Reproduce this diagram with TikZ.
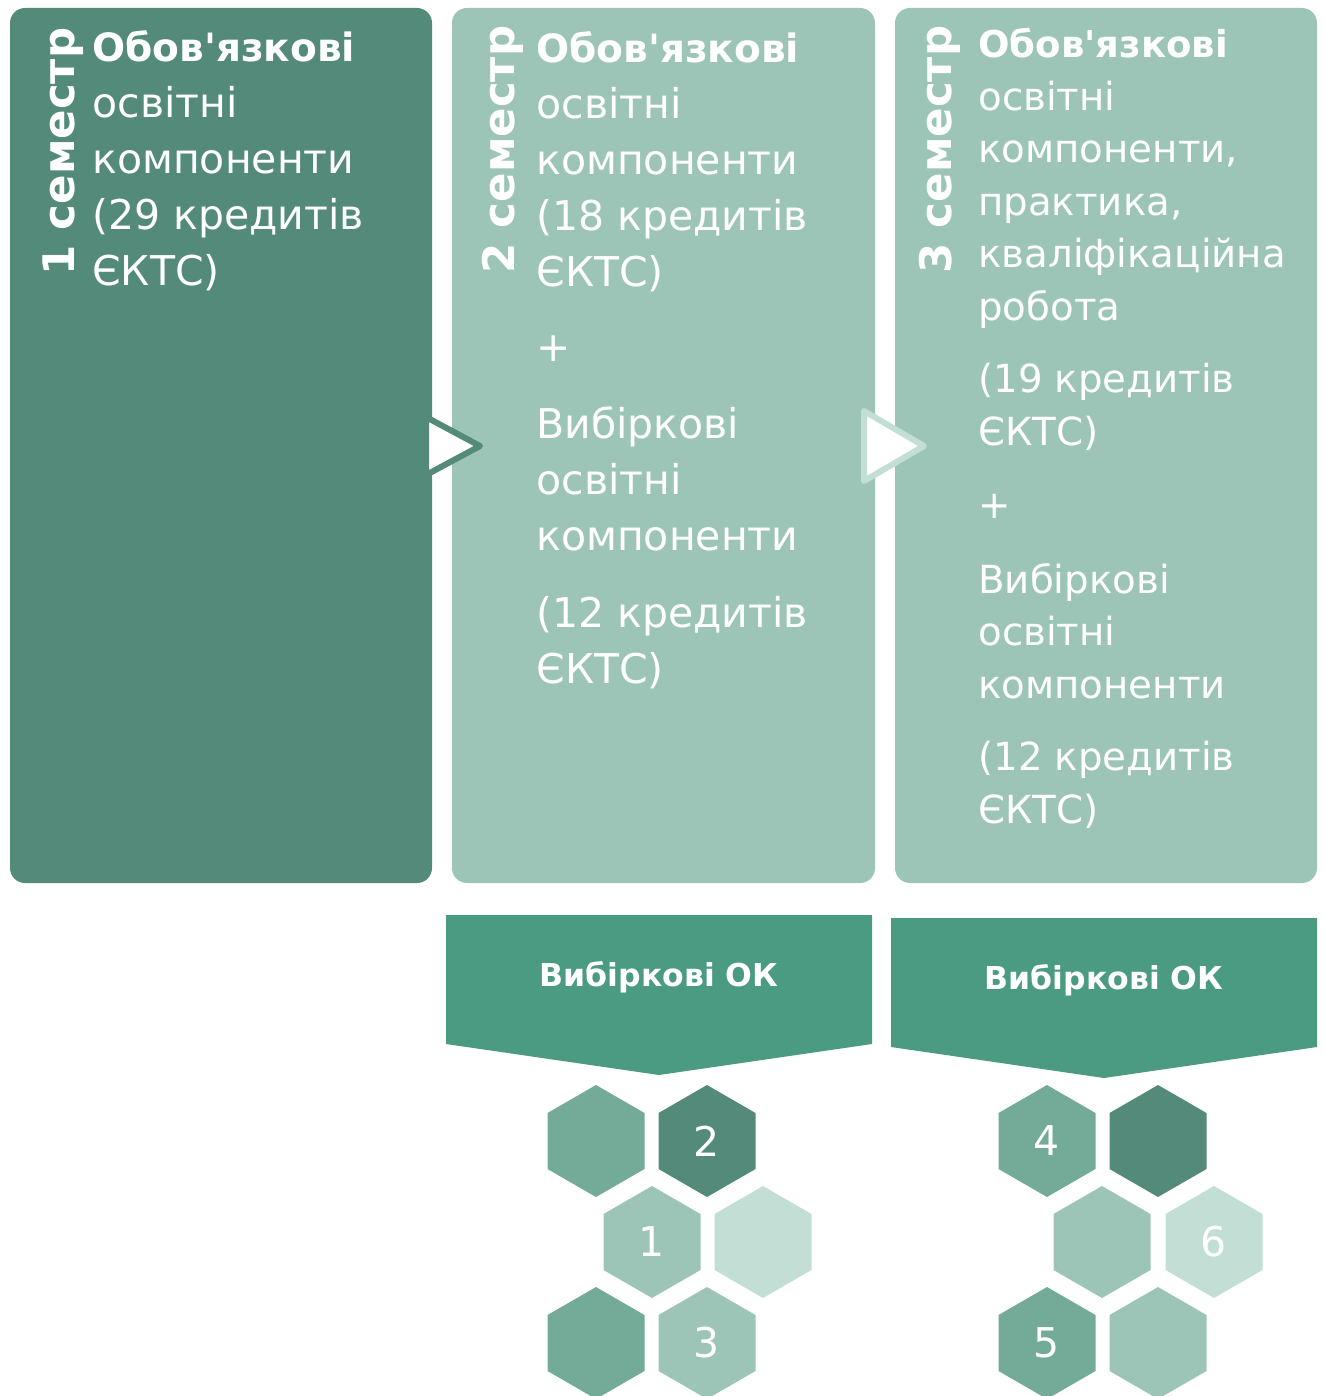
\documentclass[tikz,border=0pt]{standalone}
\usepackage{fontspec}
\setmainfont{DejaVu Sans}

\definecolor{semdark}{RGB}{83,138,121}
\definecolor{semlight}{RGB}{156,197,183}
\definecolor{semmid}{RGB}{115,171,152}
\definecolor{sempale}{RGB}{195,223,213}
\definecolor{bannergreen}{RGB}{74,155,130}

\tikzset{every picture/.style={line width=0.75pt}}
\tikzset{
  sembox/.style={rounded corners=15pt},
  semtitle/.style={rotate=90,anchor=base west,inner sep=0pt,text=white,font=\fontsize{43.5}{50}\selectfont\bfseries},
  semtext/.style={anchor=base west,inner sep=0pt,text=white,align=left,font=\fontsize{41}{56}\selectfont},
  semtextsm/.style={semtext,font=\fontsize{38.7}{52.5}\selectfont},
  hexnum/.style={inner sep=0pt,text=white,font=\fontsize{41}{50}\selectfont},
  bannertext/.style={inner sep=0pt,text=white,font=\fontsize{31.5}{36}\selectfont\bfseries}
}
\newcommand{\semhead}{{\fontsize{39}{56}\selectfont\bfseries Обов\textquotesingle язкові}}
\newcommand{\semheadsm}{{\fontsize{37}{52.5}\selectfont\bfseries Обов\textquotesingle язкові}}

\begin{document}
\begin{tikzpicture}[x=1pt,y=1pt,yscale=-1,xscale=1]
\useasboundingbox (0,0) rectangle (1324,1396);

%Shape: Rounded Rectangle [id:sem1]
\fill [semdark,sembox] (10,8) rectangle (432,883);
%Shape: Rounded Rectangle [id:sem2]
\fill [semlight,sembox] (452,8) rectangle (875,883);
%Shape: Rounded Rectangle [id:sem3]
\fill [semlight,sembox] (895,8) rectangle (1317,883);

%Shape: Triangle [id:arr1]
\draw [semdark,fill=white,line width=6pt,line join=round] (426,417) -- (480,446) -- (426,475) -- cycle ;
%Shape: Triangle [id:arr2]
\draw [sempale,fill=white,line width=6pt,line join=round] (864,411) -- (924,446) -- (864,481) -- cycle ;

% Text Node
\node [semtitle] (t1) at (74,276) {1 семестр};
% Text Node
\node [semtitle] (t2) at (514,274) {2 семестр};
% Text Node
\node [semtitle] (t3) at (951,274) {3 семестр};

% Text Node
\node [semtext] (c1) at (92,286) {\semhead\\освітні\\компоненти\\(29 кредитів\\ЄКТС)};
% Text Node
\node [semtext] (c2) at (536,683) {\semhead\\освітні\\компоненти\\(18 кредитів\\ЄКТС)\\[19pt]+\\[21pt]Вибіркові\\освітні\\компоненти\\[21pt](12 кредитів\\ЄКТС)};
% Text Node
\node [semtextsm] (c3) at (978,823) {\semheadsm\\освітні\\компоненти,\\практика,\\кваліфікаційна\\робота\\[20pt](19 кредитів\\ЄКТС)\\[21pt]+\\[22pt]Вибіркові\\освітні\\компоненти\\[20pt](12 кредитів\\ЄКТС)};

%Shape: Pentagon [id:ban1]
\fill [bannergreen] (446,915) -- (872,915) -- (872,1044) -- (659,1075) -- (446,1044) -- cycle ;
%Shape: Pentagon [id:ban2]
\fill [bannergreen] (891,918) -- (1317,918) -- (1317,1047) -- (1104,1078) -- (891,1047) -- cycle ;
% Text Node
\node [bannertext] (v1) at (659,977) {Вибіркові ОК};
% Text Node
\node [bannertext] (v2) at (1104,980) {Вибіркові ОК};

% Hexagons
\foreach \hx/\hy/\hc/\hn/\hl in {596/1141/semmid/h1a/{}, 707/1141/semdark/h1b/2, 652/1242/semlight/h1c/1,
    763/1242/sempale/h1d/{}, 596/1343/semmid/h1e/{}, 707/1343/semlight/h1f/3,
    1047/1141/semmid/h2a/4, 1158/1141/semdark/h2b/{}, 1102/1242/semlight/h2c/{},
    1214/1242/sempale/h2d/6, 1047/1343/semmid/h2e/5, 1158/1343/semlight/h2f/{}}{
  \fill [\hc] (\hx,\hy) +(90:56) -- +(150:56) -- +(210:56) -- +(270:56) -- +(330:56) -- +(30:56) -- cycle ;
  \node [hexnum] (\hn) at (\hx,\hy) {\hl};
}

\end{tikzpicture}
\end{document}
